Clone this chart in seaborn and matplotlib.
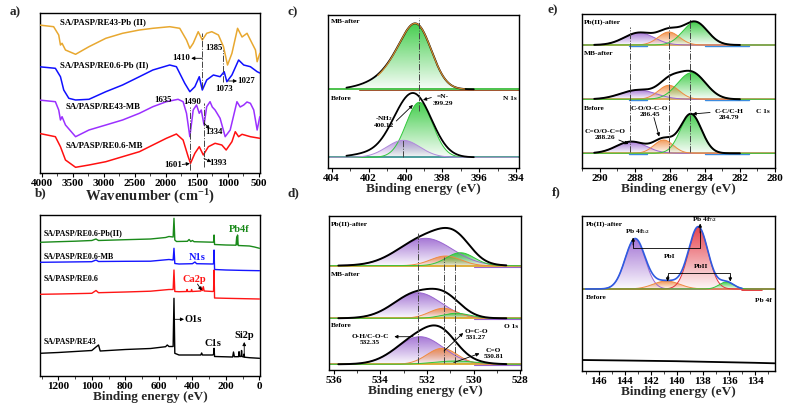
import numpy as np
import matplotlib
matplotlib.use("Agg")
import matplotlib.pyplot as plt
import seaborn as sns
from matplotlib.patches import Polygon
from matplotlib.colors import to_rgb
from matplotlib.ticker import MultipleLocator

# ---------------- data: (a) FTIR ----------------
ftir_orange_wn = [4050, 3810, 3728, 3700, 3674, 3619, 3456, 3240, 2968, 2698, 2426, 2209, 1937, 1775, 1666, 1612,
                  1558, 1477, 1411, 1340, 1258, 1151, 1069, 1004, 933, 842, 770, 689, 608, 553, 526, 483]
ftir_orange_t = [148, 146.3, 138, 128, 129.7, 123, 118.7, 126.3, 134.7, 139.7, 143, 144.7, 146.3, 144.7, 133, 124.7,
                 129.7, 141.3, 133, 139.7, 141.3, 138, 126.3, 108, 119.7, 144.7, 136, 139.7, 129.7, 123, 111.3, 119.7]
ftir_blue_wn = [4050, 3782, 3700, 3647, 3565, 3456, 3240, 2968, 2698, 2426, 2209, 1937, 1829, 1694, 1612, 1531,
                1460, 1411, 1340, 1232, 1124, 1058, 1015, 933, 825, 743, 635, 526, 483]
ftir_blue_t = [106.3, 104.7, 96.3, 83, 74.7, 73, 73.7, 81.3, 88, 96.3, 103, 108, 106.3, 89.7, 81.3, 86.3,
               96.3, 83, 93, 98, 96.3, 101.3, 91.3, 98, 113, 108, 106.3, 101.3, 100]
ftir_purple_wn = [4050, 3782, 3728, 3700, 3674, 3619, 3456, 3240, 2968, 2698, 2426, 2209, 1991, 1802, 1721, 1666,
                  1612, 1558, 1504, 1460, 1428, 1383, 1340, 1286, 1250, 1205, 1124, 1042, 961, 852, 800, 743, 690,
                  635, 581, 526, 483]
ftir_purple_t = [73, 71.3, 63, 53, 56.3, 48, 36.3, 43, 48, 53, 59.7, 66.3, 71.3, 73.7, 71.3, 59.7,
                 36.3, 63, 68, 59.7, 63, 48, 66.3, 71.3, 66, 63, 54.7, 36.3, 43, 71.3, 66, 68, 71,
                 69.7, 63, 43, 56.3]
ftir_red_wn = [4050, 3782, 3700, 3619, 3456, 3240, 2968, 2698, 2426, 2209, 1991, 1829, 1721, 1639, 1601, 1531,
               1460, 1395, 1313, 1205, 1096, 1026, 933, 879, 825, 770, 635, 483]
ftir_red_t = [39.7, 36.3, 26.3, 13, 5.7, 8, 11.3, 16.3, 21.3, 28, 34.7, 39, 33, 16.3, 9.7, 19.7,
              26.3, 18, 26.3, 29.7, 28, 23, 31.3, 41.3, 36.3, 38.7, 36.3, 34.7]
ftir_names = ["SA/PASP/RE43-Pb (II)", "SA/PASP/RE0.6-Pb (II)", "SA/PASP/RE43-MB", "SA/PASP/RE0.6-MB"]
ftir_ticks = [4000, 3500, 3000, 2500, 2000, 1500, 1000, 500]

# ---------------- data: (b) XPS survey ----------------
sv_green_be = [1309, 1200, 1100, 1000, 975, 960, 800, 650, 560, 540, 515, 510, 505, 495, 430, 420, 410, 400, 390,
               280, 274, 271, 268, 200, 140, 136, 133, 131, 127, 60, 30, 0]
sv_green_i = [133.7, 134.3, 134.8, 135.5, 137, 135.5, 136.3, 137, 138.5, 139.5, 139, 157.7, 136, 134.5, 134.7,
              136.5, 134.5, 135.5, 134.3, 133.8, 134, 141, 131.5, 131, 130.8, 139, 131.5, 141, 130.5, 130, 129, 127.7]
sv_blue_be = [1309, 1200, 1000, 975, 960, 800, 650, 540, 515, 510, 505, 480, 400, 385, 375, 280, 274, 271, 268,
              200, 100, 0]
sv_blue_i = [113.7, 113.9, 114.3, 116, 114.5, 114.7, 114.8, 116.5, 116, 127.7, 112.5, 112, 112.3, 114, 112.3, 112,
             112.3, 126, 106.5, 106, 105.6, 105.3]
sv_red_be = [1309, 1200, 1000, 975, 960, 800, 650, 540, 515, 510, 505, 480, 435, 432, 429, 408, 405, 402, 350,
             345, 340, 335, 330, 280, 274, 271, 268, 200, 0]
sv_red_i = [81.7, 82, 82.7, 85.5, 83.3, 84, 84.8, 86.5, 86.5, 106, 84.5, 84.3, 84.5, 86.5, 84.5, 84.5, 86.5, 84.5,
            85, 88, 85.5, 89.3, 85, 84.5, 84.8, 106, 78, 77.7, 77]
sv_black_be = [1309, 1200, 1100, 1000, 975, 960, 950, 900, 800, 650, 560, 550, 540, 515, 510, 505, 480, 350, 345,
               340, 280, 274, 271, 268, 160, 155, 150, 125, 122, 119, 110, 107, 104, 95, 92, 89, 60, 0]
sv_black_i = [22.7, 23.5, 24.5, 25.5, 29, 31, 25, 25.5, 26.5, 27.5, 29.3, 31, 29.5, 29.5, 77.7, 22.7, 21, 21, 23,
              21, 21, 21.5, 27.7, 19.5, 19, 24, 19.3, 19.3, 24.3, 19.5, 19.5, 25.5, 19.5, 19, 22, 18.8, 18.3, 17.7]
sv_names = ["SA/PASP/RE0.6-Pb(II)", "SA/PASP/RE0.6-MB", "SA/PASP/RE0.6", "SA/PASP/RE43"]

# ---------------- data: (c)-(f) high-resolution XPS fits: (centre eV, height, sigma eV) ----------------
c_after_env = [(399.3, 55, 0.78), (400.4, 22, 0.85), (401.8, 3.5, 0.9)]
c_before_comp = [(399.25, 55, 0.72), (400.12, 17, 0.9)]
c_before_env = [(399.4, 55, 0.9), (400.4, 17, 0.8), (401.8, 4, 1.0)]
c_bases = [78.7, 10.7]

d_after_pb = [(532.07, 27.4, 1.15), (531.2, 9.7, 0.65), (530.57, 13, 0.6)]
d_after_mb = [(532.4, 25.6, 1.0), (531.3, 10, 0.6), (530.75, 5, 0.6)]
d_before = [(532.3, 27.6, 1.0), (531.35, 16, 0.65), (530.8, 3.3, 0.9)]
d_bases = [104.3, 51.7, 5.7]

e_after_pb = [(287.75, 12.3, 0.85), (286.05, 13, 0.6), (284.55, 23, 0.7)]
e_after_mb = [(287.8, 9.3, 1.0), (286.05, 14, 0.6), (284.75, 26.6, 0.8)]
e_before = [(288.2, 11.7, 0.85), (286.35, 13.3, 0.55), (284.79, 39.3, 0.6)]
e_bases = [123, 68.7, 14.7]

f_after = [(143.2, 50, 0.76), (140.8, 8, 1.0), (138.35, 62, 0.74), (136.2, 7, 0.55)]
f_base = 82
f_before_be = [147.3, 144, 140, 137, 134, 132.5]
f_before_i = [11, 10.5, 9.8, 9.0, 8.2, 7.7]

# ---------------- style ----------------
sns.set_theme(style="ticks")
plt.rcParams["font.family"] = ["Liberation Serif", "DejaVu Serif"]
plt.rcParams["font.weight"] = "bold"
plt.rcParams["axes.labelweight"] = "bold"
plt.rcParams["mathtext.fontset"] = "custom"
plt.rcParams["mathtext.rm"] = "Liberation Serif:bold"
plt.rcParams["mathtext.bf"] = "Liberation Serif:bold"
plt.rcParams["mathtext.it"] = "Liberation Serif:bold"
plt.rcParams["mathtext.default"] = "bf"

fig = plt.figure(figsize=(7.87, 4.12), dpi=100)
W, H = 787, 412


def make_ax(l, r, t, b):
    ax = fig.add_axes([l / W, 1 - b / H, (r - l) / W, (b - t) / H])
    for s in ax.spines.values():
        s.set_linewidth(1.0)
        s.set_color("black")
    ax.set_yticks([])
    ax.tick_params(axis="x", direction="out", length=3, width=0.8, labelsize=8, pad=1.5, colors="black")
    ax.tick_params(axis="x", which="minor", direction="out", length=1.8, width=0.6)
    return ax


def line(ax, x, y, color, lw=1.1, z=3):
    sns.lineplot(x=np.asarray(x), y=np.asarray(y), color=color, lw=lw, ax=ax, estimator=None, sort=False, zorder=z)


def gfill(ax, x, y, base, color, z=1, amax=0.9, amin=0.04):
    verts = np.column_stack([np.r_[x, x[::-1]], np.r_[y, np.full_like(y, base)]])
    poly = Polygon(verts, closed=True, facecolor="none", edgecolor="none", transform=ax.transData)
    ax.add_patch(poly)
    n = 128
    grad = np.zeros((n, 1, 4))
    grad[..., :3] = to_rgb(color)
    grad[:, 0, 3] = np.linspace(amin, amax, n)
    im = ax.imshow(grad, extent=[x.min(), x.max(), base, y.max()], origin="lower", aspect="auto",
                   zorder=z, interpolation="bilinear")
    im.set_clip_path(poly)


def gauss(x, c, a, s):
    return a * np.exp(-(x - c) ** 2 / (2 * s ** 2))


def comp_sum(x, comps):
    return sum(gauss(x, *p) for p in comps)


def txt(ax, x, y, s, size=5.5, ha="left", va="center", color="black"):
    ax.text(x, y, s, fontsize=size, ha=ha, va=va, color=color, fontweight="bold", zorder=6)


def arrow(ax, xy_from, xy_to, lw=0.6):
    ax.annotate("", xy=xy_to, xytext=xy_from,
                arrowprops=dict(arrowstyle="-|>", lw=lw, color="black", mutation_scale=5, shrinkA=0, shrinkB=0),
                zorder=6)


def vdash(ax, x, y0, y1):
    ax.plot([x, x], [y0, y1], color="#444444", lw=0.7, ls="-.", zorder=4)


def finish_x(ax, lo, hi, ticks, minor, label, size=9.5):
    ax.set_xlim(lo, hi)
    ax.set_xticks(ticks)
    if minor:
        ax.xaxis.set_minor_locator(MultipleLocator(minor))
    ax.set_xticklabels([str(v) for v in ticks], fontweight="bold")
    ax.set_xlabel(label, fontsize=size, labelpad=0)


LBL = 9.5
PURPLE, ORANGE, GREEN, RED = "#9A66D0", "#F08A40", "#30C83A", "#E2303C"

# ---------------- (a) FTIR ----------------
ax = make_ax(40, 260, 13, 173)
for wn, t, col in [(ftir_orange_wn, ftir_orange_t, "#E8A830"), (ftir_blue_wn, ftir_blue_t, "#1010FF"),
                   (ftir_purple_wn, ftir_purple_t, "#9B30FF"), (ftir_red_wn, ftir_red_t, "#FF1010")]:
    line(ax, wn, t, col, lw=1.1)
for name, y, x0 in zip(ftir_names, [151.3, 108, 66.3, 27.3], [3700, 3700, 3620, 3620]):
    txt(ax, x0, y, name, size=6.3)
vdash(ax, 1410, 85, 140)
vdash(ax, 1075, 91, 123)
vdash(ax, 1605, 3, 66)
vdash(ax, 1388, 6, 70)
txt(ax, 1612, 114.7, "1410", size=6.3, ha="right")
arrow(ax, (1410, 114.7), (1590, 114.7))
txt(ax, 1218, 124.7, "1385", size=6.3, ha="center")
txt(ax, 1063, 84, "1073", size=6.3, ha="center")
txt(ax, 845, 92, "1027", size=6.3)
arrow(ax, (988, 92), (851, 92))
txt(ax, 2038, 73, "1635", size=6.3, ha="center")
txt(ax, 1571, 71.3, "1490", size=6.3, ha="center")
txt(ax, 1224, 40.7, "1334", size=6.3, ha="center")
arrow(ax, (1384, 50), (1290, 44))
txt(ax, 1884, 8, "1601", size=6.3, ha="center")
arrow(ax, (1735, 8.5), (1612, 9.5))
txt(ax, 1150, 10.3, "1393", size=6.3, ha="center")
arrow(ax, (1384, 14.5), (1265, 11))
ax.set_ylim(0, 160)
finish_x(ax, 4030, 480, ftir_ticks, 250, "Wavenumber (cm$^{-1}$)", size=10.5)
ax.set_ylabel("Transmittance (%)", fontsize=LBL, labelpad=6)

# ---------------- (b) survey ----------------
ax = make_ax(40, 260, 215, 376)
for be, it, col in [(sv_green_be, sv_green_i, "#1A8A1A"), (sv_blue_be, sv_blue_i, "#1515FF"),
                    (sv_red_be, sv_red_i, "#FF1515"), (sv_black_be, sv_black_i, "black")]:
    line(ax, be, it, col, lw=1.0)
for name, y in zip(sv_names, [142.7, 118.7, 96.7, 34.3]):
    txt(ax, 1290, y, name, size=5.8)
txt(ax, 121, 146.7, "Pb4f", size=7.5, ha="center", color="#1A8A1A")
txt(ax, 374, 118.7, "N1s", size=7.5, ha="center", color="#1515FF")
txt(ax, 390, 96, "Ca2p", size=7.5, ha="center", color="#FF1515")
arrow(ax, (370, 92), (344, 85.5))
txt(ax, 445, 56.7, "O1s", size=7.5)
arrow(ax, (509, 56.7), (450, 56.7))
txt(ax, 275, 32, "C1s", size=7.5, ha="center")
txt(ax, 91, 40, "Si2p", size=7.5, ha="center")
arrow(ax, (91, 22), (91, 34))
ax.set_ylim(0, 161)
finish_x(ax, 1309, -3, [1200, 1000, 800, 600, 400, 200, 0], 100, "Binding energy (eV)")
ax.set_ylabel("Relative intensity", fontsize=LBL, labelpad=6)

# ---------------- (c) N 1s ----------------
ax = make_ax(328, 519, 15, 168)
xc = np.linspace(404.1, 393.9, 400)
xe = np.linspace(403.2, 396.3, 300)
xo = np.linspace(401.5, 396.8, 200)
b0, b1 = c_bases
ax.plot([404.2, 393.8], [b0, b0], color="#2EB82E", lw=1.2, zorder=2)
ax.plot([402.5, 393.8], [b0 - 0.7, b0 - 0.7], color="#A0522D", lw=0.7, zorder=2)
env = b0 + comp_sum(xc, c_after_env)
gfill(ax, xc, env, b0, GREEN)
line(ax, xe, b0 + comp_sum(xe, c_after_env) + gauss(xe, 402.0, 1.2, 0.9), "black", lw=1.3)
line(ax, xo, b0 + comp_sum(xo, c_after_env), "#D08A30", lw=0.9, z=4)
ax.plot([404.2, 393.8], [b1, b1], color="#2E8B8B", lw=1.2, zorder=2)
for p, col in zip(c_before_comp, [GREEN, "#B08ADB"]):
    yy = b1 + gauss(xc, *p)
    gfill(ax, xc, yy, b1, col)
    ax.plot(xc, yy, color=col, lw=0.7, zorder=2)
line(ax, xe, b1 + comp_sum(xe, c_before_env), "black", lw=1.3)
vdash(ax, 399.29, 57, 150)
vdash(ax, 400.12, 11, 28)
txt(ax, 404.05, 146.3, "MB-after", size=5.3)
txt(ax, 404.05, 69.7, "Before", size=5.3)
txt(ax, 393.95, 69.7, "N 1s", size=5.3, ha="right")
txt(ax, 397.97, 71.3, "=N-", size=5.3, ha="center")
txt(ax, 397.97, 64.7, "399.29", size=5.3, ha="center")
arrow(ax, (398.6, 70.5), (399.05, 68))
txt(ax, 401.17, 49.7, "-NH$_2$", size=5.3, ha="center")
txt(ax, 401.17, 43, "400.12", size=5.3, ha="center")
arrow(ax, (400.5, 47), (399.6, 63))
ax.set_ylim(0, 153)
finish_x(ax, 404.2, 393.85, [404, 402, 400, 398, 396, 394], 1, "Binding energy (eV)")
ax.set_ylabel("Intensity (a.u.)", fontsize=LBL, labelpad=5)

# ---------------- (d) O 1s ----------------
ax = make_ax(329, 521, 216, 370)
xd = np.linspace(536.2, 528.0, 400)
xde = np.linspace(535.8, 528.6, 300)
for comps, base in zip([d_after_pb, d_after_mb, d_before], d_bases):
    ax.plot([536.3, 527.9], [base, base], color="#D9A21B", lw=1.2, zorder=2)
    ax.plot([530.0, 527.9], [base - 0.8, base - 0.8], color="#9A66D0", lw=0.8, zorder=2)
    for p, col in zip(comps, [PURPLE, ORANGE, GREEN]):
        yy = base + gauss(xd, *p)
        gfill(ax, xd, yy, base, col)
        ax.plot(xd, yy, color=col, lw=0.7, zorder=2)
    line(ax, xde, base + comp_sum(xde, comps), "black", lw=1.4)
vdash(ax, 532.38, 6.7, 136.7)
vdash(ax, 531.27, 6.7, 113)
vdash(ax, 530.8, 6.7, 108)
txt(ax, 536.1, 146, "Pb(II)-after", size=5.3)
txt(ax, 536.1, 96, "MB-after", size=5.3)
txt(ax, 536.1, 44.3, "Before", size=5.3)
txt(ax, 528.1, 43.3, "O 1s", size=5.3, ha="right")
txt(ax, 534.43, 33.3, "O-H/C-O-C", size=5.3, ha="center")
txt(ax, 534.43, 27.3, "532.35", size=5.3, ha="center")
arrow(ax, (532.6, 33.3), (533.4, 33.3))
txt(ax, 529.89, 38.3, "O=C-O", size=5.3, ha="center")
txt(ax, 529.89, 32.7, "531.27", size=5.3, ha="center")
arrow(ax, (531.27, 19), (530.45, 37))
txt(ax, 529.14, 19.3, "C=O", size=5.3, ha="center")
txt(ax, 529.14, 14, "530.81", size=5.3, ha="center")
arrow(ax, (530.85, 7.5), (529.75, 16.5))
ax.set_ylim(0, 154)
finish_x(ax, 536.2, 527.97, [536, 534, 532, 530, 528], 1, "Binding energy (eV)")
ax.set_ylabel("Intensity (a.u.)", fontsize=LBL, labelpad=5)

# ---------------- (e) C 1s ----------------
ax = make_ax(582, 775, 14, 168)
xe2 = np.linspace(291.0, 280.0, 400)
xee = np.linspace(290.3, 282.0, 300)
for comps, base in zip([e_after_pb, e_after_mb, e_before], e_bases):
    ax.plot([291.1, 279.9], [base, base], color="#D2A04A", lw=1.2, zorder=2)
    ax.plot([288.3, 287.3], [base - 0.6, base - 0.6], color="#3C8CE0", lw=1.0, zorder=2)
    ax.plot([284.0, 281.5], [base - 0.6, base - 0.6], color="#3C8CE0", lw=1.0, zorder=2)
    for p, col in zip(comps, [PURPLE, ORANGE, GREEN]):
        yy = base + gauss(xe2, *p)
        gfill(ax, xe2, yy, base, col)
        ax.plot(xe2, yy, color=col, lw=0.7, zorder=2)
    line(ax, xee, base + comp_sum(xee, comps), "black", lw=1.4)
vdash(ax, 288.26, 16.3, 141.3)
vdash(ax, 286.05, 16.3, 143)
vdash(ax, 284.82, 16.3, 149)
txt(ax, 290.9, 146.3, "Pb(II)-after", size=5.3)
txt(ax, 290.9, 114.7, "MB-after", size=5.3)
txt(ax, 290.9, 59.7, "Before", size=5.3)
txt(ax, 280.3, 56.3, "C 1s", size=5.3, ha="right")
txt(ax, 287.15, 59.7, "C-O/O-C-O", size=5.3, ha="center")
txt(ax, 287.15, 54, "286.45", size=5.3, ha="center")
arrow(ax, (286.9, 50.5), (286.6, 31.5))
txt(ax, 282.62, 56.3, "C-C/C-H", size=5.3, ha="center")
txt(ax, 282.62, 50.7, "284.79", size=5.3, ha="center")
arrow(ax, (283.7, 55.5), (284.7, 54))
txt(ax, 289.71, 36.3, "C=O/O-C=O", size=5.3, ha="center")
txt(ax, 289.71, 30.7, "288.26", size=5.3, ha="center")
arrow(ax, (288.9, 28), (288.35, 24))
ax.set_ylim(0, 154)
finish_x(ax, 291.0, 280.0, [290, 288, 286, 284, 282, 280], 1, "Binding energy (eV)")
ax.set_ylabel("Intensity (a.u.)", fontsize=LBL, labelpad=5)

# ---------------- (f) Pb 4f ----------------
ax = make_ax(582, 775, 216, 371)
xf = np.linspace(147.3, 132.5, 400)
xfe = np.linspace(147.0, 135.0, 300)
ax.plot([147.4, 132.4], [f_base, f_base], color="#F08A30", lw=1.4, zorder=2)
ax.plot([135.0, 133.5], [f_base - 1, f_base - 1], color="#E02020", lw=1.2, zorder=2)
for p, col in zip(f_after, [PURPLE, ORANGE, RED, GREEN]):
    yy = f_base + gauss(xf, *p)
    gfill(ax, xf, yy, f_base, col)
    ax.plot(xf, yy, color=col, lw=0.7, zorder=2)
line(ax, xfe, f_base + comp_sum(xfe, f_after), "#2F5BE0", lw=1.2)
line(ax, f_before_be, f_before_i, "black", lw=1.3)
ax.plot([143.35, 143.35, 138.21, 138.21], [131, 122.7, 122.7, 140], color="black", lw=0.6, zorder=6)
arrow(ax, (143.35, 126), (143.35, 133.5))
arrow(ax, (138.21, 138), (138.21, 147.5))
ax.plot([140.7, 140.7, 135.9, 135.9], [93, 97.7, 97.7, 93], color="black", lw=0.6, zorder=6)
arrow(ax, (140.7, 95), (140.7, 89.5))
arrow(ax, (135.9, 95), (135.9, 89.5))
txt(ax, 147.0, 147, "Pb(II)-after", size=5.3)
txt(ax, 147.0, 73.3, "Before", size=5.3)
txt(ax, 132.7, 71, "Pb 4f", size=5.3, ha="right")
txt(ax, 143.0, 139.5, "Pb 4f$_{5/2}$", size=5.3, ha="center")
txt(ax, 137.9, 151, "Pb 4f$_{7/2}$", size=5.3, ha="center")
txt(ax, 140.58, 115, "PbI", size=5.3, ha="center")
txt(ax, 138.12, 104.3, "PbII", size=5.3, ha="center")
ax.set_ylim(0, 155)
finish_x(ax, 147.27, 132.47, [146, 144, 142, 140, 138, 136, 134], 1, "Binding energy (eV)")
ax.set_ylabel("Intensity (a.u.)", fontsize=LBL, labelpad=5)

# ---------------- panel letters ----------------
for s, x, y in [("a)", 10, 12), ("b)", 35, 193), ("c)", 287, 12), ("d)", 287, 193), ("e)", 547, 10),
                ("f)", 552, 192)]:
    fig.text(x / W, 1 - y / H, s, fontsize=9.5, fontweight="bold", ha="left", va="center")

fig.savefig("out.png", dpi=100)
